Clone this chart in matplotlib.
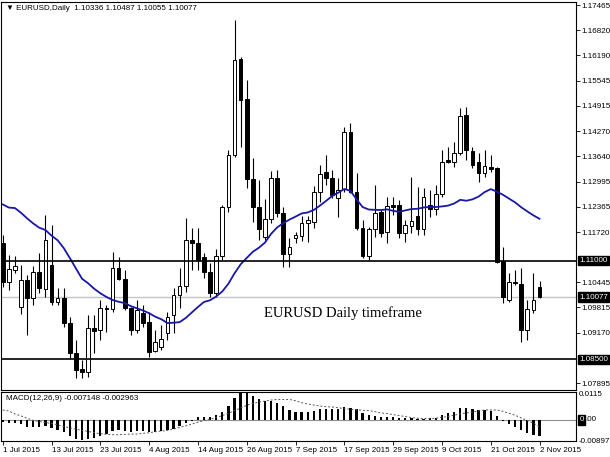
import numpy as np
import pandas as pd
import matplotlib
matplotlib.use('Agg')
import matplotlib.pyplot as plt

# EURUSD daily, 1 Jul 2015 .. 2 Nov 2015
opens = [1.11450, 1.10457, 1.10760, 1.09824, 1.10508, 1.10052, 1.10710, 1.10280, 1.10887, 1.09951,
         1.10052, 1.09420, 1.08661, 1.08256, 1.08180, 1.09293, 1.09242, 1.09799, 1.09774, 1.10811,
         1.10533, 1.09799, 1.09242, 1.09672, 1.09445, 1.08711, 1.08812, 1.09166, 1.09622, 1.10128,
         1.10356, 1.11520, 1.11444, 1.11090, 1.10710, 1.10179, 1.11115, 1.12355, 1.13670, 1.16099,
         1.15087, 1.13063, 1.12355, 1.11596, 1.12051, 1.13088, 1.12203, 1.11166, 1.11570, 1.11621,
         1.11950, 1.11975, 1.12734, 1.13240, 1.13088, 1.12582, 1.12810, 1.14252, 1.12734, 1.11823,
         1.11115, 1.11798, 1.12228, 1.11722, 1.12405, 1.12405, 1.11697, 1.11874, 1.12127, 1.11798,
         1.12405, 1.12304, 1.12684, 1.13544, 1.13493, 1.13721, 1.14682, 1.13772, 1.13493, 1.13215,
         1.13367, 1.13341, 1.10988, 1.10001, 1.10457, 1.10406, 1.09242, 1.09760, 1.10336]
highs = [1.11650, 1.11140, 1.11115, 1.10887, 1.10634, 1.10862, 1.11191, 1.12152, 1.11899, 1.10305,
         1.10305, 1.09571, 1.08989, 1.08483, 1.09622, 1.09622, 1.10001, 1.09875, 1.11216, 1.11090,
         1.10760, 1.09824, 1.10001, 1.09875, 1.09698, 1.09242, 1.09369, 1.09698, 1.10305, 1.10811,
         1.12076, 1.11823, 1.11823, 1.11191, 1.10938, 1.11292, 1.12405, 1.13797, 1.17086, 1.16150,
         1.15568, 1.13594, 1.13037, 1.12557, 1.13265, 1.13291, 1.12354, 1.11570, 1.11722, 1.12127,
         1.12127, 1.12886, 1.13417, 1.13670, 1.13291, 1.13088, 1.14378, 1.14480, 1.13215, 1.12026,
         1.11848, 1.12911, 1.12279, 1.12608, 1.12608, 1.12532, 1.12026, 1.13114, 1.12861, 1.12835,
         1.12785, 1.12911, 1.13797, 1.13873, 1.13999, 1.14859, 1.14884, 1.13873, 1.13721, 1.13797,
         1.13670, 1.13367, 1.11342, 1.10685, 1.10760, 1.10811, 1.10001, 1.10685, 1.10487]
lows = [1.10330, 1.10254, 1.10685, 1.09647, 1.09116, 1.09875, 1.10179, 1.10077, 1.09875, 1.09875,
        1.09318, 1.08534, 1.08028, 1.08028, 1.08053, 1.08661, 1.08989, 1.09192, 1.09698, 1.10508,
        1.09748, 1.09116, 1.09166, 1.09318, 1.08560, 1.08686, 1.08737, 1.08989, 1.09166, 1.09799,
        1.10204, 1.10760, 1.10760, 1.10558, 1.10077, 1.10077, 1.11014, 1.12228, 1.13620, 1.13873,
        1.12835, 1.11975, 1.11520, 1.11520, 1.11950, 1.12102, 1.10836, 1.10836, 1.11444, 1.11494,
        1.11469, 1.11823, 1.12481, 1.12911, 1.12582, 1.12102, 1.12734, 1.12700, 1.11772, 1.11064,
        1.11014, 1.11595, 1.11595, 1.11444, 1.12152, 1.11570, 1.11469, 1.11697, 1.11646, 1.11646,
        1.12102, 1.12152, 1.12608, 1.13468, 1.13367, 1.13670, 1.13544, 1.13341, 1.12987, 1.13114,
        1.13240, 1.10940, 1.09925, 1.09951, 1.10381, 1.08939, 1.08989, 1.09672, 1.10055]
closes = [1.10457, 1.10786, 1.10862, 1.10508, 1.10052, 1.10710, 1.10305, 1.11520, 1.09951, 1.10052,
          1.09420, 1.08661, 1.08230, 1.08180, 1.09293, 1.09217, 1.09799, 1.09774, 1.10811, 1.10533,
          1.09799, 1.09242, 1.09748, 1.09420, 1.08686, 1.08939, 1.09015, 1.09571, 1.10128, 1.10356,
          1.11520, 1.11444, 1.11014, 1.10710, 1.10179, 1.11115, 1.12355, 1.13670, 1.16074, 1.15062,
          1.13063, 1.12355, 1.11798, 1.12051, 1.13088, 1.12203, 1.11166, 1.11343, 1.11646, 1.11950,
          1.12026, 1.12734, 1.13190, 1.13088, 1.12658, 1.12785, 1.14252, 1.12734, 1.11823, 1.11115,
          1.11798, 1.12203, 1.11697, 1.12380, 1.12354, 1.11697, 1.11899, 1.12000, 1.11798, 1.12608,
          1.12304, 1.12684, 1.13493, 1.13493, 1.13721, 1.14657, 1.13797, 1.13417, 1.13215, 1.13392,
          1.13316, 1.10963, 1.10077, 1.10457, 1.10432, 1.09242, 1.09780, 1.10001, 1.10077]

# closes of June 2015, needed to start the 20-day moving average
june_closes = [1.1240, 1.1110, 1.1290, 1.1290, 1.1325, 1.1250, 1.1265, 1.1280, 1.1240, 1.1335,
               1.1370, 1.1350, 1.1340, 1.1160, 1.1200, 1.1205, 1.1165, 1.1235, 1.1145]

macd_hist = [-0.00085, -0.00114, -0.00142, -0.00199, -0.00312, -0.00312, -0.00312, -0.00284, -0.00355, -0.00454,
             -0.00540, -0.00682, -0.00824, -0.00880, -0.00824, -0.00781, -0.00682, -0.00611, -0.00497, -0.00454,
             -0.00497, -0.00540, -0.00497, -0.00497, -0.00540, -0.00525, -0.00497, -0.00454, -0.00398, -0.00284,
             -0.00142, -0.00028, 0.00114, 0.00142, 0.00142, 0.00213, 0.00355, 0.00596, 0.00923, 0.01150,
             0.01136, 0.01022, 0.00880, 0.00824, 0.00824, 0.00738, 0.00596, 0.00430, 0.00327, 0.00327,
             0.00355, 0.00400, 0.00454, 0.00454, 0.00454, 0.00454, 0.00568, 0.00525, 0.00454, 0.00284,
             0.00213, 0.00170, 0.00142, 0.00142, 0.00142, 0.00100, 0.00070, 0.00070, 0.00040, 0.00057,
             0.00070, 0.00100, 0.00213, 0.00284, 0.00355, 0.00497, 0.00497, 0.00454, 0.00426, 0.00426,
             0.00400, 0.00170, -0.00070, -0.00180, -0.00300, -0.00450, -0.00570, -0.00640, -0.007148]
macd_signal = [0.00426, 0.00383, 0.00256, 0.00170, 0.00070, -0.00028, -0.00070, -0.00114, -0.00156, -0.00213,
               -0.00284, -0.00340, -0.00398, -0.00454, -0.00497, -0.00554, -0.00596, -0.00625, -0.00639, -0.00639,
               -0.00625, -0.00610, -0.00610, -0.00582, -0.00554, -0.00510, -0.00483, -0.00454, -0.00398, -0.00327,
               -0.00256, -0.00185, -0.00100, -0.00028, 0.00028, 0.00100, 0.00185, 0.00284, 0.00398, 0.00510,
               0.00625, 0.00710, 0.00767, 0.00810, 0.00852, 0.00880, 0.00880, 0.00880, 0.00824, 0.00738,
               0.00682, 0.00639, 0.00596, 0.00568, 0.00554, 0.00525, 0.00483, 0.00454, 0.00440, 0.00412,
               0.00398, 0.00355, 0.00298, 0.00270, 0.00227, 0.00185, 0.00142, 0.00100, 0.00070, 0.00057,
               0.00057, 0.00070, 0.00114, 0.00142, 0.00200, 0.00256, 0.00298, 0.00341, 0.00383, 0.00426,
               0.00426, 0.00426, 0.00369, 0.00284, 0.00200, 0.00085, -0.00028, -0.00142, -0.002963]

date_ticks = [0, 8, 16, 24, 32, 40, 48, 56, 64, 72, 80, 88]
date_labels = ['1 Jul 2015', '13 Jul 2015', '23 Jul 2015', '4 Aug 2015', '14 Aug 2015', '26 Aug 2015',
               '7 Sep 2015', '17 Sep 2015', '29 Sep 2015', '9 Oct 2015', '21 Oct 2015', '2 Nov 2015']
price_ticks = [1.17465, 1.16820, 1.16190, 1.15545, 1.14915, 1.14270, 1.13640, 1.12995, 1.12365,
               1.11720, 1.10445, 1.09815, 1.09170, 1.07895]
levels = [1.11000, 1.08500]
last_price = 1.10077

fs = 5.8
plt.rcParams['font.family'] = ['Liberation Sans', 'DejaVu Sans']

o = np.array(opens); h = np.array(highs); l = np.array(lows); c = np.array(closes)
x = np.arange(len(c))
up = c >= o

fig = plt.figure(figsize=(6.1, 4.57), dpi=100)
ax = fig.add_axes([0.00164, 0.14661, 0.9426, 0.84902])
axm = fig.add_axes([0.00164, 0.03501, 0.9426, 0.10722], sharex=ax)

# candles
ax.vlines(x, l, h, color='black', lw=0.8, zorder=2)
body_lo = np.minimum(o, c)
body_h = np.maximum(np.abs(c - o), 0.00004)
ax.bar(x[up], body_h[up], bottom=body_lo[up], width=0.62, facecolor='white',
       edgecolor='black', lw=0.7, zorder=3)
ax.bar(x[~up], body_h[~up], bottom=body_lo[~up], width=0.62, facecolor='black',
       edgecolor='black', lw=0.7, zorder=3)

# 20 day moving average
ma = pd.Series(june_closes + closes).rolling(20).mean().to_numpy()[len(june_closes):]
ax.plot(x, ma, color='#1818a8', lw=1.3, zorder=4)

for lv in levels:
    ax.axhline(lv, color='black', lw=1.2, zorder=5)
ax.axhline(last_price, color='#c4c4c4', lw=1.0, zorder=1)

ax.set_xlim(-0.28, 93.98)
ax.set_ylim(1.07724, 1.17541)
ax.yaxis.tick_right()
ax.set_yticks(price_ticks)
ax.set_yticklabels(['%.5f' % p for p in price_ticks])
ax.tick_params(axis='y', length=3, width=0.6, labelsize=fs, pad=1)
ax.tick_params(axis='x', bottom=False, labelbottom=False)

box = dict(boxstyle='square,pad=0.15', fc='black', ec='black')
for lv in levels + [last_price]:
    ax.text(1.006, lv, '%.5f' % lv, transform=ax.get_yaxis_transform(), fontsize=fs,
            color='white', va='center', ha='left', bbox=box)

ax.text(0.008, 0.992, '\u25bc EURUSD,Daily  1.10336 1.10487 1.10055 1.10077', transform=ax.transAxes,
        fontsize=fs, va='top', ha='left', family=['Liberation Sans', 'DejaVu Sans'])
ax.text(55.8, 1.0967, 'EURUSD Daily timeframe', family='Liberation Serif', fontsize=10.5,
        ha='center', va='center')

# MACD panel
axm.bar(x, macd_hist, width=0.38, color='black', zorder=2)
axm.plot(x, macd_signal, color='#555555', lw=0.7, ls=(0, (2, 2)), zorder=3)
axm.axhline(0, color='#909090', lw=0.8, zorder=1)
axm.set_ylim(-0.0091, 0.0120)
axm.yaxis.tick_right()
axm.set_yticks([0.0115, -0.00897])
axm.set_yticklabels(['0.0115', '-0.00897'])
axm.tick_params(axis='y', length=0, labelsize=fs, pad=2)
axm.text(1.006, 0, '0', transform=axm.get_yaxis_transform(), fontsize=fs, color='white',
         va='center', ha='left', bbox=box)
axm.text(1.0158, 0, '.00', transform=axm.get_yaxis_transform(), fontsize=fs,
         va='center', ha='left')
axm.text(0.008, 0.93, 'MACD(12,26,9) -0.007148 -0.002963', transform=axm.transAxes,
         fontsize=fs, va='top', ha='left')

axm.set_xticks(date_ticks)
axm.set_xticklabels(date_labels, ha='left')
axm.tick_params(axis='x', length=3, width=0.6, labelsize=fs, pad=1)

for a in (ax, axm):
    for s in a.spines.values():
        s.set_color('black')
        s.set_linewidth(0.8)

fig.savefig('out.png', dpi=100, facecolor='white')
